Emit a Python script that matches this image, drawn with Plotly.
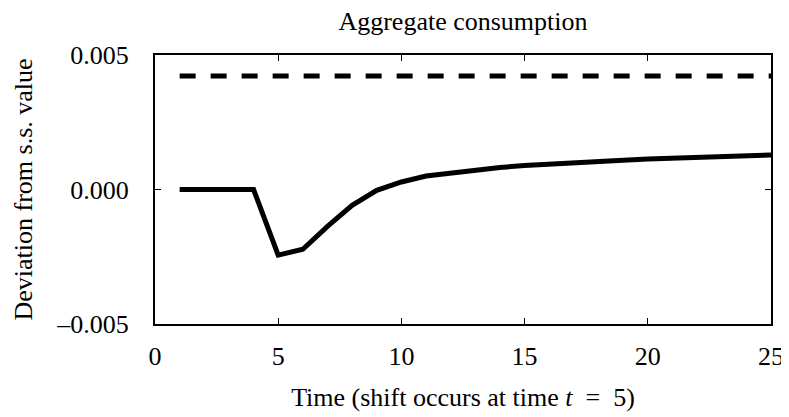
import plotly.graph_objects as go

time = list(range(1, 26))
consumption = [0.0, 0.0, 0.0, 0.0, -0.00244, -0.00222, -0.00137, -0.00059, -0.00003,
               0.00028, 0.00050, 0.00062, 0.00072, 0.00082, 0.00089, 0.00095, 0.00100,
               0.00105, 0.00109, 0.00113, 0.00116, 0.00119, 0.00122, 0.00125, 0.00128]
long_run = [0.00422] * 25

x_ticks = [0, 5, 10, 15, 20, 25]
y_ticks = [-0.005, 0.0, 0.005]
y_ticklabels = ["\u20130.005", "0.000", "0.005"]

FONT = "Liberation Serif, Times New Roman, serif"
FS = 26

fig = go.Figure()
fig.add_trace(go.Scatter(x=time, y=long_run, mode="lines",
                         line=dict(color="black", width=5, dash="16px,15px"),
                         showlegend=False))
fig.add_trace(go.Scatter(x=time, y=consumption, mode="lines",
                         line=dict(color="black", width=5),
                         showlegend=False))

axis_common = dict(showline=True, linecolor="black", linewidth=2, mirror="ticks",
                   ticks="inside", ticklen=6, tickwidth=1, tickcolor="black",
                   showgrid=False, zeroline=False, automargin=False,
                   tickfont=dict(family=FONT, size=FS, color="black"))

# the page body adds an 8px offset, so the figure is sized to fit the 789x417 window
fig.update_layout(
    width=781, height=409,
    margin=dict(l=147, r=18, t=47, b=93),
    paper_bgcolor="white", plot_bgcolor="white",
    font=dict(family=FONT, size=FS, color="black"),
    title=dict(text="Aggregate consumption", xref="paper", x=0.5, xanchor="center",
               yref="container", y=0.969, yanchor="middle",
               font=dict(family=FONT, size=FS, color="black")),
    xaxis=dict(range=[0, 25], tickvals=x_ticks, ticklabelstandoff=8,
               title=dict(text="Time (shift occurs at time <i>t</i>  =  5)", standoff=18,
                          font=dict(family=FONT, size=FS, color="black")),
               **axis_common),
    yaxis=dict(range=[-0.005, 0.005], tickvals=y_ticks, ticktext=y_ticklabels,
               ticklabelstandoff=19,
               title=dict(text="Deviation from s.s. value", standoff=16,
                          font=dict(family=FONT, size=FS, color="black")),
               **axis_common),
)

fig.write_html("out.html")
